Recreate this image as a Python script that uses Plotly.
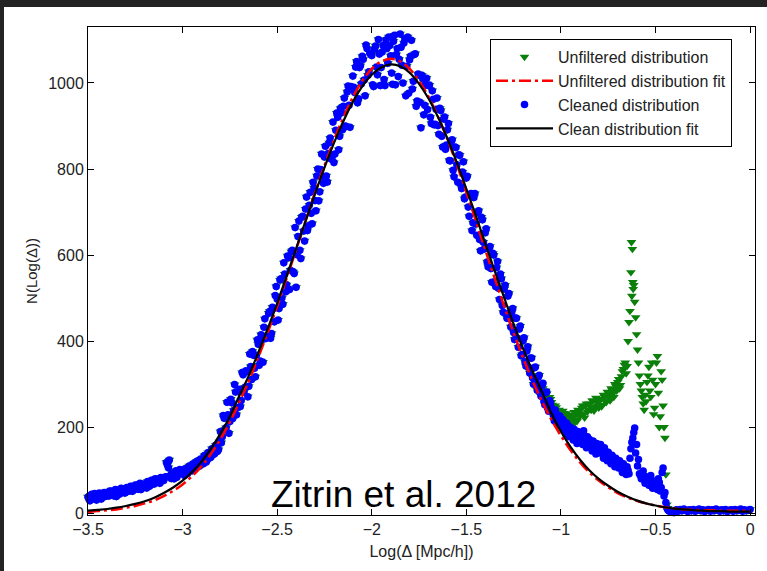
import numpy as np
import plotly.graph_objects as go

# ---------------- data ----------------
# histogram bins every 0.005: "a" bins at -3.500, -3.490, ... 0.000 and
# "b" bins at -3.495, -3.485, ... -0.405
x_a = np.round(-3.5 + 0.01 * np.arange(351), 3)
x_b = np.round(-3.495 + 0.01 * np.arange(310), 3)

# cleaned distribution, a-bins -3.50 ... -2.81
blue_a_left = [
    38, 29, 44, 34, 41, 36, 47, 33, 42, 39,
    45, 40, 51, 43, 48, 39, 53, 46, 50, 57,
    49, 58, 52, 61, 54, 66, 57, 62, 55, 68,
    64, 59, 71, 66, 75, 68, 73, 79, 70, 82,
    76, 85, 112, 124, 81, 87, 95, 84, 91, 98,
    93, 88, 101, 96, 107, 99, 112, 105, 118, 110,
    121, 115, 129, 124, 138, 131, 146, 139, 155, 148,
]
# cleaned distribution, a-bins -2.80 ... -1.06
blue_a_mid = [
    190, 178, 221, 199, 229,
    213, 257, 239, 282, 245,
    288, 262, 322, 293, 329,
    295, 341, 376, 337, 367,
    393, 354, 403, 432, 406,
    411, 469, 418, 476, 506,
    498, 476, 545, 486, 556,
    531, 594, 565, 611, 557,
    525, 643, 611, 688, 656,
    707, 657, 716, 697, 769,
    727, 784, 726, 799, 783,
    828, 784, 836, 872, 827,
    815, 890, 920, 876, 931,
    946, 900, 979, 948, 992,
    1016, 978, 1050, 963, 1040,
    1062, 1007, 1088, 1018, 1069,
    1064, 992, 1086, 1019, 1067,
    1036, 1087, 994, 1080, 1107,
    1063, 997, 1111, 1066, 1015,
    1114, 1041, 1093, 970, 1107,
    1054, 1099, 1004, 1068, 958,
    1018, 896, 1009, 948, 1011,
    994, 920, 982, 903, 939,
    901, 941, 876, 916, 846,
    891, 820, 864, 797, 851,
    810, 833, 766, 793, 731,
    779, 712, 741, 657, 734,
    672, 699, 636, 688, 630,
    652, 584, 616, 569, 604,
    538, 571, 523, 556, 483,
    521, 464, 505, 452, 467,
    420, 454, 407, 428, 366,
    401, 352, 377, 339, 361,
    315, 338, 301, 316, 280,
    297, 260, 280, 244, 262,
]
# cleaned distribution, a-bins -1.05 ... -0.40
blue_a_right = [
    245, 228, 240, 215, 222,
    205, 218, 196, 210, 188,
    200, 182, 195, 176, 190,
    185, 170, 192, 165, 178,
    172, 158, 168, 150, 162,
    148, 160, 140, 152, 132,
    142, 125, 135, 118, 128,
    112, 122, 104, 115, 98,
    108, 92, 150, 175, 198,
    160, 125, 88, 95, 78,
    85, 70, 80, 62, 75,
    68, 55, 72, 60, 105,
    48, 12, 6, 4, 3,
    2,
]
# both distributions, a-bins -0.39 ... 0.00
tail_a = [8, 5, 9, 6, 10, 7, 4, 8, 6, 9, 5, 7, 10, 6, 8, 4, 7, 9, 5, 8,
          6, 10, 7, 5, 8, 6, 9, 4, 7, 8, 5, 9, 6, 7, 10, 5, 8, 6, 7, 9]

# cleaned distribution, b-bins -3.495 ... -2.805
blue_b_left = [
    33, 42, 37, 46, 31, 40, 44, 37, 48, 41,
    43, 52, 47, 41, 55, 49, 44, 58, 51, 47,
    60, 54, 63, 51, 59, 64, 56, 70, 62, 66,
    68, 74, 63, 77, 70, 80, 72, 76, 83, 78,
    82, 118, 106, 88, 93, 80, 99, 90, 102, 94,
    97, 104, 92, 110, 101, 115, 107, 121, 113, 126,
    125, 134, 119, 141, 129, 150, 137, 158, 144, 166,
]
# cleaned distribution, b-bins -2.795 ... -1.055
blue_b_mid = [
    164, 227, 195, 258, 186,
    265, 220, 299, 229, 283,
    248, 327, 282, 331, 271,
    370, 311, 367, 317, 403,
    344, 415, 351, 452, 409,
    465, 407, 479, 445, 527,
    449, 542, 500, 582, 515,
    598, 520, 608, 561, 664,
    601, 679, 592, 690, 633,
    735, 668, 746, 673, 756,
    703, 800, 747, 835, 767,
    853, 770, 861, 823, 909,
    835, 930, 845, 941, 891,
    965, 899, 993, 897, 986,
    990, 1037, 954, 1036, 998,
    1055, 970, 1080, 1026, 1066,
    996, 1079, 1037, 1101, 994,
    1072, 1008, 1100, 1046, 1087,
    1023, 1097, 996, 1080, 1055,
    1083, 1000, 1102, 1039, 976,
    1062, 986, 1066, 946, 1021,
    955, 1018, 926, 995, 938,
    995, 906, 962, 904, 965,
    881, 936, 851, 921, 856,
    906, 819, 868, 782, 850,
    769, 832, 755, 817, 735,
    783, 690, 743, 675, 743,
    646, 703, 610, 682, 614,
    661, 573, 620, 537, 600,
    527, 585, 497, 545, 467,
    530, 453, 511, 433, 476,
    404, 453, 386, 435, 369,
    408, 342, 387, 326, 361,
    300, 340, 286, 321, 272,
    302, 252, 282, 237, 257,
]
# cleaned distribution, b-bins -1.045 ... -0.405
blue_b_right = [
    238, 215, 232, 205, 226,
    200, 212, 185, 205, 178,
    192, 170, 188, 162, 182,
    175, 160, 180, 152, 170,
    165, 145, 160, 138, 155,
    140, 150, 128, 145, 122,
    135, 115, 130, 108, 120,
    105, 118, 95, 110, 90,
    100, 128, 165, 188, 140,
    110, 92, 80, 98, 70,
    78, 65, 88, 58, 72,
    62, 80, 52, 95, 40,
    25, 8, 5, 3, 2,
]

# unfiltered distribution where it differs from the cleaned one
green_a_right = [          # a-bins -1.10 ... -0.40
    300, 268, 285, 255, 270,
    258, 242, 250, 232, 240,
    228, 238, 220, 232, 215,
    226, 212, 235, 218, 240,
    225, 245, 230, 250, 236,
    255, 240, 262, 248, 258,
    245, 265, 252, 270, 258,
    275, 262, 285, 270, 295,
    305, 290, 318, 335, 350,
    342, 444, 560, 537, 491,
    416, 350, 300, 270, 240,
    260, 320, 285, 350, 230,
    300, 365, 200, 330, 250,
    175, 20, 8, 5, 4,
    3,
]
green_b_right = [          # b-bins -1.095 ... -0.405
    290, 262, 278, 250, 265,
    252, 238, 246, 228, 236,
    222, 233, 214, 228, 210,
    220, 206, 228, 214, 236,
    232, 250, 222, 255, 240,
    248, 262, 238, 268, 250,
    262, 248, 275, 260, 282,
    268, 290, 278, 300, 285,
    312, 298, 330, 345, 325,
    400, 470, 505, 530, 455,
    380, 320, 285, 255, 275,
    305, 340, 270, 310, 245,
    350, 280, 225, 310, 200,
    90, 12, 6, 4, 3,
]
spike_x = [-0.627, -0.622, -0.618]
spike_y = [630, 614, 521]

# fitted curves sampled every 0.05 from -3.5 to 0
x_fit = np.round(-3.5 + 0.05 * np.arange(71), 2)
clean_fit = [6, 8, 10, 13, 17, 22, 28, 36, 47, 60,
             76, 96, 120, 150, 185, 225, 273, 320, 373, 429,
             488, 551, 615, 679, 742, 803, 860, 911, 956, 992,
             1019, 1036, 1043, 1039, 1024, 998, 964, 921, 871, 815,
             754, 692, 627, 563, 501, 440, 383, 330, 282, 232,
             190, 155, 125, 100, 80, 64, 50, 39, 30, 23,
             18, 14, 11, 9, 7, 6, 5, 5, 4, 4,
             4]
unf_fit = [3, 5, 7, 9, 13, 17, 23, 30, 40, 52,
           67, 86, 109, 138, 172, 212, 258, 307, 362, 420,
           481, 546, 612, 679, 745, 808, 867, 920, 967, 1005,
           1033, 1050, 1056, 1050, 1033, 1005, 968, 922, 869, 810,
           746, 680, 612, 546, 481, 419, 361, 308, 260, 217,
           180, 147, 119, 95, 76, 60, 47, 37, 29, 23,
           18, 14, 11, 9, 8, 7, 7, 6, 6, 6,
           6]

x_ticks = [-3.5, -3, -2.5, -2, -1.5, -1, -0.5, 0]
y_ticks = [0, 200, 400, 600, 800, 1000]

# ---------------- assemble ----------------
blue_a = blue_a_left + blue_a_mid + blue_a_right + tail_a
blue_b = blue_b_left + blue_b_mid + blue_b_right
green_a = blue_a[:240] + green_a_right + tail_a
green_b = blue_b[:240] + green_b_right

blue_x = list(x_a) + list(x_b)
blue_y = blue_a + blue_b
green_x = list(x_a) + list(x_b) + spike_x
green_y = green_a + green_b + spike_y

FONT = "Liberation Sans, Arial, sans-serif"

fig = go.Figure()
fig.add_trace(go.Scatter(
    x=green_x, y=green_y, mode="markers", name="Unfiltered distribution",
    marker=dict(symbol="triangle-down", size=8.5, color="#0a800a"),
    legendrank=1, cliponaxis=False))
fig.add_trace(go.Scatter(
    x=blue_x, y=blue_y, mode="markers", name="Cleaned distribution",
    marker=dict(symbol="circle", size=7.5, color="#0000ff"),
    legendrank=3, cliponaxis=False))
fig.add_trace(go.Scatter(
    x=x_fit, y=unf_fit, mode="lines", name="Unfiltered distribution fit",
    line=dict(color="#ff0000", width=2.5, dash="12px,4px,3px,4px", shape="spline"),
    legendrank=2))
fig.add_trace(go.Scatter(
    x=x_fit, y=clean_fit, mode="lines", name="Clean distribution fit",
    line=dict(color="#000000", width=2.2, shape="spline"),
    legendrank=4))

axis_common = dict(showline=True, linecolor="black", linewidth=1, mirror="ticks",
                   ticks="inside", ticklen=6, tickwidth=1, tickcolor="black",
                   showgrid=False, zeroline=False,
                   tickfont=dict(family=FONT, size=16, color="#222"))

fig.update_xaxes(range=[-3.5, 0.026], tickvals=x_ticks,
                 title=dict(text="Log(Δ [Mpc/h])", font=dict(family=FONT, size=16, color="#222"),
                            standoff=8),
                 **axis_common)
fig.update_yaxes(range=[-4, 1130], tickvals=y_ticks,
                 title=dict(text="N(Log(Δ))", font=dict(family=FONT, size=15, color="#222"),
                            standoff=6),
                 **axis_common)

L, R, T, B = 88, 12, 27, 56
W, H = 767, 571
pw, ph = W - L - R, H - T - B

fig.update_layout(
    width=W, height=H,
    margin=dict(l=L, r=R, t=T, b=B),
    paper_bgcolor="white", plot_bgcolor="white",
    showlegend=True,
    legend=dict(x=(490 - L) / pw, y=(H - B - 39) / ph, xanchor="left", yanchor="top",
                bordercolor="black", borderwidth=1, bgcolor="white",
                font=dict(family=FONT, size=16, color="#222"),
                itemwidth=57),
    annotations=[dict(x=-1.83, y=44, xref="x", yref="y", text="Zitrin et al. 2012",
                      showarrow=False, xanchor="center", yanchor="middle",
                      font=dict(family=FONT, size=37, color="black"))],
    shapes=[
        dict(type="rect", xref="paper", yref="paper",
             x0=-L / pw - 0.01, x1=(W - L) / pw + 0.01,
             y0=(H - B - 7) / ph, y1=(H - B) / ph + 0.01,
             fillcolor="#232323", line=dict(width=0), layer="above"),
        dict(type="rect", xref="paper", yref="paper",
             x0=-L / pw - 0.01, x1=(4 - L) / pw,
             y0=-B / ph - 0.01, y1=(H - B) / ph + 0.01,
             fillcolor="#232323", line=dict(width=0), layer="above"),
    ],
)

fig.write_html("out.html")
